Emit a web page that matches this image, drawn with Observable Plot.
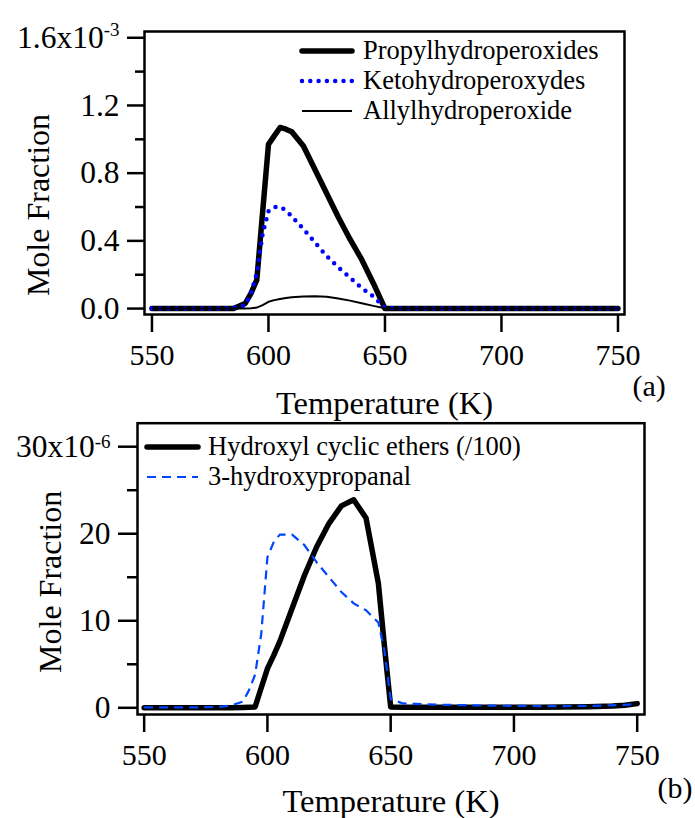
<!DOCTYPE html>
<html><head><meta charset="utf-8">
<script src="https://cdn.jsdelivr.net/npm/d3@7"></script>
<script src="https://cdn.jsdelivr.net/npm/@observablehq/plot@0.6"></script>
<style>
body{margin:0;background:#fff;}
#wrap{position:relative;width:695px;height:818px;font-family:"Liberation Serif","Times New Roman",serif;}
#wrap svg{position:absolute;left:0;overflow:visible;}
</style></head><body><div id="wrap"></div>
<script>
// ---- Panel (a) data: mole fraction in units of 1e-3 ----
const tempA = [550,560,570,580,585,590,592.5,595,597.5,600,602.5,605,607.5,610,615,620,625,630,635,640,645,650,660,670,680,690,700,710,720,730,740,750];
const propyl = [0,0,0,0,0,0.03,0.09,0.17,0.57,0.97,1.02,1.07,1.06,1.045,0.96,0.82,0.68,0.54,0.41,0.29,0.15,0.0,0,0,0,0,0,0,0,0,0,0];
const keto   = [0,0,0,0,0.005,0.02,0.09,0.21,0.44,0.575,0.60,0.60,0.58,0.545,0.47,0.39,0.31,0.243,0.183,0.122,0.072,0.005,0,0,0,0,0,0,0,0,0,0];
const allyl  = [0,0,0,0,0,0,0.002,0.006,0.02,0.04,0.05,0.057,0.062,0.067,0.072,0.073,0.07,0.06,0.047,0.031,0.016,0.002,0,0,0,0,0,0,0,0,0,0];
const namesA = ["Propylhydroperoxides","Ketohydroperoxydes","Allylhydroperoxide"];
const yTicksA = [0,0.4,0.8,1.2,1.6];
const yMinorA = [0.2,0.6,1.0,1.4];

// ---- Panel (b) data: mole fraction in units of 1e-6 ----
const tempB = [550,560,570,580,585,590,592.5,595,597.5,600,602.5,605,610,615,620,625,630,635,640,645,647.5,650,655,660,670,680,690,700,710,720,730,740,745,750];
const hydroxylEthers = [0,0,0,0,0,0.03,0.06,0.1,2.3,4.5,6.0,7.6,11.4,15.2,18.5,21.2,23.2,23.9,21.8,14.3,7.0,0.1,0.05,0.05,0.05,0.05,0.05,0.05,0.06,0.08,0.12,0.2,0.3,0.48];
const hydroxypropanal = [0.05,0.05,0.05,0.1,0.25,0.7,2.0,3.8,8.5,17.3,19.0,19.9,19.9,18.7,16.7,15.0,13.3,12.0,11.2,9.8,6.5,1.0,0.5,0.45,0.35,0.3,0.25,0.22,0.2,0.2,0.22,0.28,0.33,0.45];
const namesB = ["Hydroxyl cyclic ethers (/100)","3-hydroxypropanal"];
const yTicksB = [0,10,20,30];
const yMinorB = [5,15,25];

const xTicks = [550,600,650,700,750];

const FONT = "Liberation Serif";
const wrap = document.getElementById("wrap");

const seriesA = [
  {name: namesA[0], vals: propyl, stroke: "#000", width: 5.5, dash: null, cap: "round"},
  {name: namesA[1], vals: keto, stroke: "#0000ff", width: 4.5, dash: "0 8.3", cap: "round"},
  {name: namesA[2], vals: allyl, stroke: "#000", width: 2, dash: null, cap: "butt"}
];
const seriesB = [
  {name: namesB[0], vals: hydroxylEthers, stroke: "#000", width: 5.5, dash: null, cap: "round"},
  {name: namesB[1], vals: hydroxypropanal, stroke: "#0046ff", width: 2.2, dash: "9 6", cap: "butt"}
];

function lineMarks(temps, series) {
  return series.map(s => Plot.line(temps.map((t, i) => ({t, v: s.vals[i]})), {
    x: "t", y: "v", stroke: s.stroke, strokeWidth: s.width,
    strokeDasharray: s.dash, strokeLinecap: s.cap, strokeLinejoin: "round"
  }));
}

function panel(o) {
  return Plot.plot({
    width: 695, height: o.height,
    marginLeft: o.ml, marginRight: o.mr, marginTop: o.mt, marginBottom: o.mb,
    style: {fontFamily: FONT, fontSize: "30px", background: "transparent", color: "#000", overflow: "visible"},
    x: {domain: o.xd},
    y: {domain: o.yd},
    marks: [
      Plot.axisX({ticks: xTicks, tickSize: 18, tickPadding: 11, strokeWidth: 2.5, fontSize: 30,
        tickFormat: d => String(d), label: null}),
      Plot.axisY({ticks: o.yt, tickSize: o.tsy, tickPadding: 8, strokeWidth: 2.5, fontSize: 31.5,
        tickFormat: o.fmt, label: null}),
      Plot.axisY({ticks: o.ym, tickSize: o.tsm, strokeWidth: 2.5, tickFormat: () => "", label: null}),
      Plot.text(["Temperature (K)"], {frameAnchor: "bottom", dy: o.xldy, textAnchor: "middle", lineAnchor: "middle", fontSize: 32.5}),
      Plot.text(["Mole Fraction"], {frameAnchor: "left", rotate: -90, dx: o.yldx, dy: o.yldy, textAnchor: "middle", lineAnchor: "middle", fontSize: 32}),
      Plot.frame({strokeWidth: 2.5}),
      ...lineMarks(o.temps, o.series),
      Plot.text([o.tag], {frameAnchor: "bottom-right", dx: o.tagdx, dy: o.tagdy, textAnchor: "start", lineAnchor: "middle", fontSize: 30})
    ]
  });
}

const A = panel({height: 425, ml: 144, mr: 71, mt: 31, mb: 111, xd: [546.8, 752.8], yd: [-0.035, 1.637],
  yt: yTicksA, ym: yMinorA, tsy: 17, tsm: 9, fmt: d => d === 1.6 ? "1.6x10" : d.toFixed(1),
  xldy: 89, yldx: -106, yldy: 32, temps: tempA, series: seriesA, tag: "(a)", tagdx: 8, tagdy: 72});
A.style.top = "0px";
wrap.appendChild(A);

const B = panel({height: 408, ml: 137, mr: 51, mt: 12.7, mb: 104, xd: [547.3, 752.96], yd: [-0.77, 32.7],
  yt: yTicksB, ym: yMinorB, tsy: 19, tsm: 10, fmt: d => d === 30 ? "30x10" : String(d),
  xldy: 87, yldx: -87, yldy: 13, temps: tempB, series: seriesB, tag: "(b)", tagdx: 13, tagdy: 74});
B.style.top = "410px";
wrap.appendChild(B);

// superscript exponents on top tick labels
function addSup(svg, base, sup, dy) {
  d3.select(svg).selectAll("text").filter(function() { return this.textContent === base; })
    .append("tspan").attr("dy", dy).attr("font-size", "19px").text(sup);
}
addSup(A, "1.6x10", "-3", "-0.6em");
addSup(B, "30x10", "-6", "-0.45em");

// legends
function legend(svg, series, x0, x1, tx, ys) {
  const g = d3.select(svg).append("g").attr("font-family", FONT).attr("font-size", "26.5px").attr("text-anchor", "start");
  series.forEach((s, i) => {
    g.append("line").attr("x1", x0).attr("x2", x1).attr("y1", ys[i]).attr("y2", ys[i])
      .attr("stroke", s.stroke).attr("stroke-width", s.width)
      .attr("stroke-dasharray", s.dash).attr("stroke-linecap", s.cap);
    g.append("text").attr("x", tx).attr("y", ys[i] + 8).attr("fill", "#000").attr("text-anchor", "start").text(s.name);
  });
}
legend(A, seriesA, 302, 352, 363, [51, 81, 111]);
legend(B, seriesB, 147, 198, 208, [37, 67]);
</script></body></html>
